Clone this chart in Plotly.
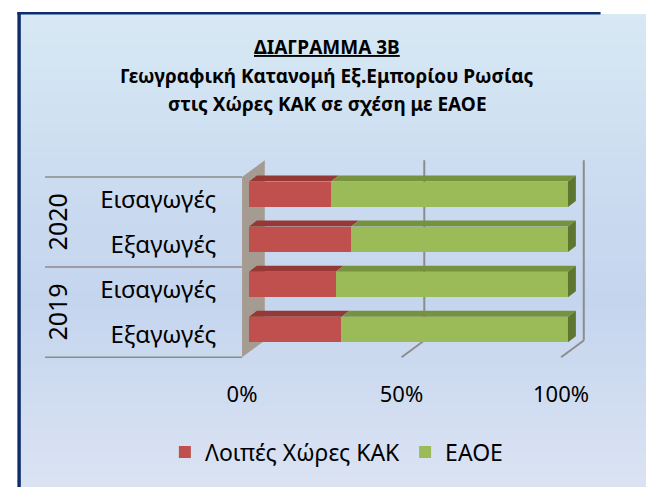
import plotly.graph_objects as go

# ---------------- data ----------------
years = ["2020", "2020", "2019", "2019"]
flows = ["Εισαγωγές", "Εξαγωγές", "Εισαγωγές", "Εξαγωγές"]
cis_share = [25.7, 32.0, 27.2, 29.0]      # Λοιπές Χώρες ΚΑΚ (%)
eaeu_share = [74.3, 68.0, 72.8, 71.0]     # ΕΑΟΕ (%)
series_names = ["Λοιπές Χώρες ΚΑΚ", "ΕΑΟΕ"]
tick_values = [0, 50, 100]
tick_labels = ["0%", "50%", "100%"]
title_lines = ["ΔΙΑΓΡΑΜΜΑ 3Β",
               "Γεωγραφική Κατανομή Εξ.Εμπορίου Ρωσίας",
               "στις Χώρες ΚΑΚ σε σχέση με ΕΑΟΕ"]

# ---------------- style / geometry ----------------
W, H = 646, 487
FONT = "Noto Sans"
RED, RED_TOP = "#c0504d", "#953836"
GREEN, GREEN_TOP, GREEN_SIDE = "#9bbb59", "#76923c", "#5f7630"
WALL = "#a69b90"
GRID = "#8c8c8c"
NAVY = "#0e2d6c"

PX_X = 3.23          # pixels per percent
PX_Y = 45.07         # pixels per category
X0PX, Y0PX = 244.0, 329.5
PL, PR, PT, PB = 230, 600, 150, 365   # plot area in px

xr = [(PL - X0PX) / PX_X, (PR - X0PX) / PX_X]
yr = [(Y0PX - PB) / PX_Y, (Y0PX - PT) / PX_Y]

dxb, dyb = 8 / PX_X, 6 / PX_Y          # bar depth
fx, fy = -7 / PX_X, -5.2 / PX_Y        # front plane offset
bx, by = 16 / PX_X, 11.5 / PX_Y        # back plane offset
bar_w = 25.5 / PX_Y

n = len(flows)
ypos = list(range(n - 1, -1, -1))

def px(x):
    return x / W

def py(y):
    return 1 - y / H

fig = go.Figure()
fig.add_trace(go.Bar(y=ypos, x=cis_share, orientation="h", name=series_names[0],
                     marker=dict(color=RED, line=dict(width=0)), width=bar_w,
                     hoverinfo="x+name"))
fig.add_trace(go.Bar(y=ypos, x=eaeu_share, orientation="h", name=series_names[1],
                     marker=dict(color=GREEN, line=dict(width=0)), width=bar_w,
                     hoverinfo="x+name"))

shapes = []
# background gradient
stops = [(14, (216, 233, 244)), (150, (205, 222, 241)), (300, (196, 213, 238)), (487, (219, 227, 243))]
def col_at(y):
    for (ya, ca), (yb, cb) in zip(stops[:-1], stops[1:]):
        if ya <= y <= yb:
            t = (y - ya) / (yb - ya)
            return "rgb(%d,%d,%d)" % tuple(round(a + (b - a) * t) for a, b in zip(ca, cb))
    return "rgb(%d,%d,%d)" % stops[-1][1]
y = 14
step = 6
while y < H:
    shapes.append(dict(type="rect", xref="paper", yref="paper", layer="below",
                       x0=px(13), x1=1.01, y0=py(min(y + step + 1, H)), y1=py(y),
                       fillcolor=col_at(y + step / 2), line=dict(width=0)))
    y += step
# border
shapes.append(dict(type="rect", xref="paper", yref="paper", layer="below",
                   x0=px(9.5), x1=px(13), y0=-0.01, y1=py(12), fillcolor=NAVY, line=dict(width=0)))
shapes.append(dict(type="rect", xref="paper", yref="paper", layer="below",
                   x0=px(9.5), x1=px(600), y0=py(14.5), y1=py(12), fillcolor=NAVY, line=dict(width=0)))

lo, hi = -0.5, n - 0.5
# left wall
shapes.append(dict(type="path", xref="x", yref="y", layer="below",
                   path=f"M{fx},{lo+fy} L{fx},{hi+fy} L{bx},{hi+by} L{bx},{lo+by} Z",
                   fillcolor=WALL, line=dict(width=0)))
# gridlines on back wall and floor
for v in tick_values[1:]:
    shapes.append(dict(type="line", xref="x", yref="y", layer="below",
                       x0=v + bx, x1=v + bx, y0=lo + by, y1=hi + by,
                       line=dict(color=GRID, width=2)))
    shapes.append(dict(type="line", xref="x", yref="y", layer="below",
                       x0=v + bx, x1=v + fx, y0=lo + by, y1=lo + fy,
                       line=dict(color=GRID, width=2)))

# 3D faces of bars
for i in range(n):
    yc = ypos[i]
    yt, yb = yc + bar_w / 2, yc - bar_w / 2
    segs = [(0, cis_share[i], RED_TOP), (cis_share[i], cis_share[i] + eaeu_share[i], GREEN_TOP)]
    for a, b, c in segs:
        shapes.append(dict(type="path", xref="x", yref="y", layer="above",
                           path=f"M{a},{yt} L{b},{yt} L{b+dxb},{yt+dyb} L{a+dxb},{yt+dyb} Z",
                           fillcolor=c, line=dict(width=0)))
    e = cis_share[i] + eaeu_share[i]
    shapes.append(dict(type="path", xref="x", yref="y", layer="above",
                       path=f"M{e},{yt} L{e},{yb} L{e+dxb},{yb+dyb} L{e+dxb},{yt+dyb} Z",
                       fillcolor=GREEN_SIDE, line=dict(width=0)))

# category-group dividers and year labels
annotations = []
bounds = [0]
for i in range(1, n):
    if years[i] != years[i - 1]:
        bounds.append(i)
bounds.append(n)
for k in range(len(bounds)):
    b = bounds[k]
    yline = ypos[0] + 0.5 - b + fy
    shapes.append(dict(type="line", xref="paper", yref="y", layer="below",
                       x0=px(37.5), x1=px(237), y0=yline, y1=yline,
                       line=dict(color=GRID, width=1.5)))
for k in range(len(bounds) - 1):
    a, b = bounds[k], bounds[k + 1]
    yc = (ypos[a] + ypos[b - 1]) / 2 + fy
    annotations.append(dict(text=years[a], xref="paper", yref="y", x=px(50), y=yc,
                            xanchor="center", yanchor="middle",
                            textangle=-90, showarrow=False,
                            font=dict(family=FONT, size=25, color="black")))

# title
for t, yy, extra in zip(title_lines, [47, 76, 104], [True, False, False]):
    txt = f"<b><u>{t}</u></b>" if extra else f"<b>{t}</b>"
    annotations.append(dict(text=txt, xref="paper", yref="paper", x=px(323), y=py(yy),
                            xanchor="center", yanchor="middle", showarrow=False,
                            font=dict(family=FONT, size=19, color="black")))

fig.update_layout(
    width=W, height=H, margin=dict(l=0, r=0, t=0, b=0),
    paper_bgcolor="white", plot_bgcolor="rgba(0,0,0,0)",
    barmode="stack", bargap=0,
    showlegend=True,
    legend=dict(orientation="h", x=px(333), xanchor="center", y=py(452), yanchor="middle",
                traceorder="normal", font=dict(family=FONT, size=23, color="black"),
                itemwidth=30, bgcolor="rgba(0,0,0,0)"),
    xaxis=dict(domain=[px(PL), px(PR)], range=xr, showgrid=False, zeroline=False,
               showline=False, ticks="", tickvals=tick_values, ticktext=tick_labels,
               tickfont=dict(family=FONT, size=22, color="black"),
               ticklabelshift=-7, ticklabelstandoff=14, fixedrange=True),
    yaxis=dict(domain=[py(PB), py(PT)], range=yr, showgrid=False, zeroline=False,
               showline=False, ticks="", tickvals=ypos, ticktext=flows,
               tickfont=dict(family=FONT, size=24, color="black"),
               ticklabelshift=5, ticklabelstandoff=18, fixedrange=True),
    shapes=shapes, annotations=annotations,
    font=dict(family=FONT),
)

fig.write_html("out.html", config={"displayModeBar": False},
               post_script="document.documentElement.style.overflow='hidden';"
                           "document.body.style.margin='0';document.body.style.overflow='hidden';")
